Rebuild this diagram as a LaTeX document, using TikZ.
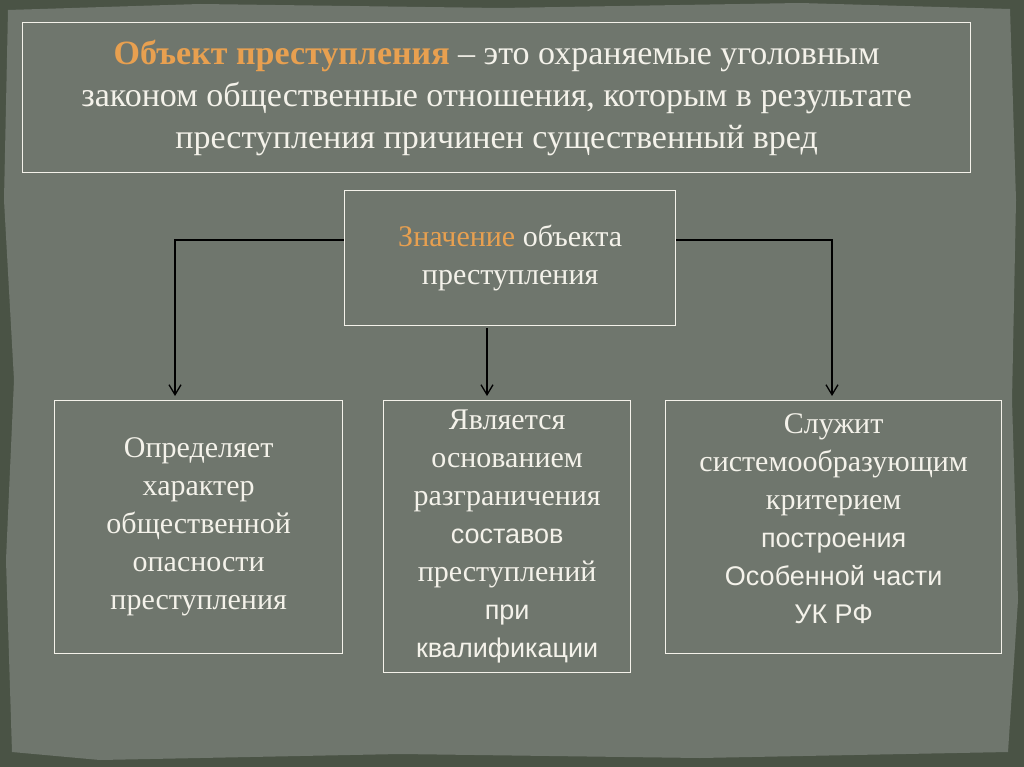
\documentclass[tikz,border=0pt]{standalone}
\usepackage{fontspec}
\setmainfont{Liberation Serif}
\newfontfamily\arialf{Liberation Sans}
\usetikzlibrary{arrows.meta}
\definecolor{outerc}{HTML}{4A5345}
\definecolor{paperc}{HTML}{6F766D}
\definecolor{orng}{HTML}{E8A050}
\definecolor{wtxt}{HTML}{F4F2EA}
\newcommand{\sn}[1]{{\arialf\fontsize{27}{38}\selectfont #1}}
\tikzset{
 frame/.style={draw=wtxt, line width=1.3pt},
 txt/.style={text=wtxt, align=center, font=\fontsize{30}{38}\selectfont},
 conn/.style={draw=black, line width=1.3pt, -{Straight Barb[length=10pt,width=12pt]}}
}
\begin{document}
\begin{tikzpicture}[x=1pt,y=-1pt]
\useasboundingbox (0,0) rectangle (1024,767);
\fill[outerc] (0,0) rectangle (1024,767);
\fill[paperc] (8,10) -- (200,4) -- (500,8) -- (800,3) -- (1010,9) -- (1016,200) -- (1012,400) -- (1018,600) -- (1008,752) -- (700,758) -- (400,754) -- (100,760) -- (12,752) -- (6,560) -- (14,380) -- (4,200) -- cycle;
\node[frame, minimum width=948pt, minimum height=150pt, anchor=north west] (title) at (22,22) {};
\node[txt, font=\fontsize{34}{42}\selectfont] at (title.center) {{\bfseries\color{orng}Объект преступления} – это охраняемые уголовным\\законом общественные отношения, которым в результате\\преступления причинен существенный вред};
\node[frame, minimum width=331pt, minimum height=135pt, anchor=north west] (cen) at (344,190) {};
\node[txt] at (cen.center) {{\color{orng}Значение} объекта\\преступления};
\node[frame, minimum width=288pt, minimum height=253pt, anchor=north west] (lb) at (54,400) {};
\node[txt] at (lb.center) {Определяет\\характер\\общественной\\опасности\\преступления};
\node[frame, minimum width=247pt, minimum height=272pt, anchor=north west] (mb) at (383,400) {};
\node[txt] at (mb.center) {Является\\основанием\\разграничения\\\sn{составов}\\преступлений\\\sn{при}\\\sn{квалификации}};
\node[frame, minimum width=336pt, minimum height=253pt, anchor=north west] (rb) at (665,400) {};
\node[txt] at ([yshift=8pt]rb.center) {Служит\\системообразующим\\критерием\\\sn{построения}\\\sn{Особенной части}\\\sn{УК РФ}};
\coordinate (lt) at (175,396);
\coordinate (rt) at (832,396);
\coordinate (mt) at (487,396);
\draw[conn] (cen.west |- 0,240) -| (lt);
\draw[conn] (cen.east |- 0,240) -| (rt);
\draw[conn] (487,328) -- (mt);
\end{tikzpicture}
\end{document}
